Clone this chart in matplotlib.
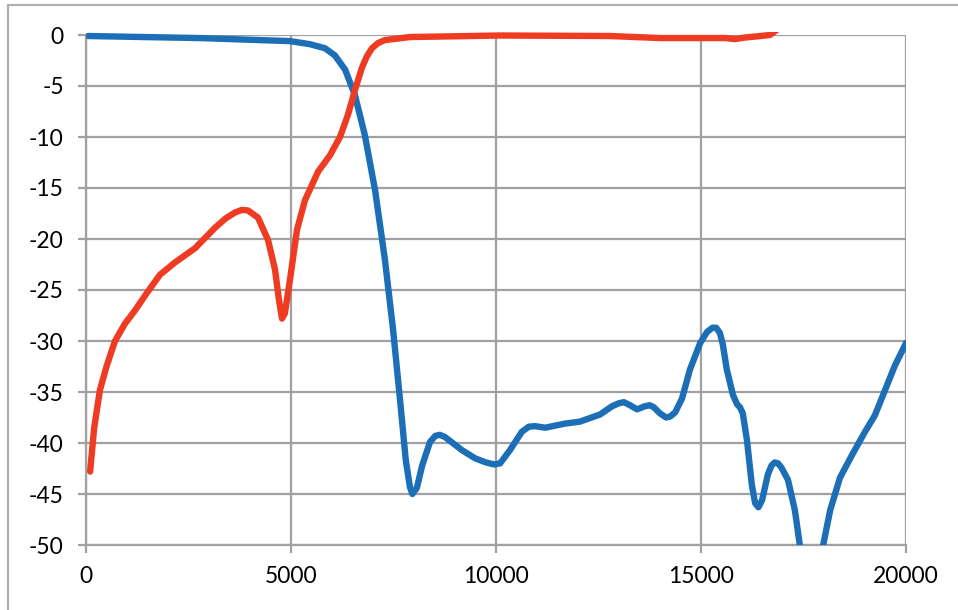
import matplotlib
matplotlib.use("Agg")
import matplotlib.pyplot as plt
from matplotlib.patches import Rectangle

# red series (freq, value)
red_x = [100, 200, 340, 500, 707, 950, 1195, 1500, 1805, 2170, 2660, 3146,
         3400, 3634, 3800, 3950, 4195, 4440, 4610, 4700, 4780, 4850, 4975,
         5146, 5340, 5660, 5950, 6195, 6390, 6560, 6730, 6850, 6975, 7120,
         7290, 7900, 10100, 12780, 14000, 14975, 15600, 15830, 16070, 16450,
         16680, 16850, 17100, 20000]
red_y = [-42.8, -38.5, -34.8, -32.5, -30.0, -28.3, -27.0, -25.2, -23.5, -22.3,
         -20.9, -18.9, -18.0, -17.4, -17.15, -17.2, -17.9, -20.1, -23.0, -25.8,
         -27.8, -27.3, -24.0, -19.1, -16.2, -13.4, -11.8, -10.0, -7.8, -5.4,
         -3.2, -2.1, -1.3, -0.8, -0.5, -0.2, -0.05, -0.1, -0.3, -0.3, -0.3,
         -0.4, -0.25, -0.1, 0.0, 0.5, 2.0, 4.0]

# blue series
blue_x = [50, 2780, 4975, 5460, 5830, 6070, 6320, 6560, 6800, 7050, 7290, 7490,
          7660, 7800, 7900, 7960, 8070, 8200, 8390, 8520, 8630, 8750, 8880,
          9170, 9490, 9750, 9950, 10100, 10340, 10630, 10800, 10950, 11200,
          11680, 12050, 12540, 12830, 13000, 13120, 13270, 13440, 13630, 13750,
          13850, 14000, 14150, 14250, 14370, 14540, 14730, 14980, 15150, 15280,
          15370, 15460, 15530, 15630, 15780, 15880, 15950, 16020, 16120, 16240,
          16320, 16400, 16490, 16630, 16720, 16800, 16880, 16960, 17120, 17290,
          17410, 17700, 17980, 18150, 18390, 18680, 19000, 19240, 19490, 19730,
          20000]
blue_y = [-0.1, -0.3, -0.6, -0.9, -1.3, -2.0, -3.4, -5.9, -9.8, -15.2, -22.0,
          -28.9, -35.8, -41.7, -44.3, -45.0, -44.4, -42.2, -39.9, -39.3, -39.2,
          -39.4, -39.8, -40.7, -41.5, -41.9, -42.1, -42.0, -40.7, -38.9, -38.4,
          -38.35, -38.5, -38.1, -37.9, -37.2, -36.4, -36.1, -36.0, -36.3, -36.7,
          -36.4, -36.3, -36.5, -37.1, -37.5, -37.4, -37.0, -35.6, -32.8, -30.2,
          -29.1, -28.7, -28.7, -29.2, -30.3, -32.8, -35.3, -36.2, -36.5, -37.1,
          -39.7, -44.1, -45.9, -46.3, -45.6, -43.1, -42.2, -41.9, -42.0, -42.4,
          -43.6, -46.6, -50.0, -65.0, -50.0, -46.6, -43.4, -41.2, -38.9, -37.3,
          -34.8, -32.4, -30.2]

x_ticks = [0, 5000, 10000, 15000, 20000]
y_ticks = [0, -5, -10, -15, -20, -25, -30, -35, -40, -45, -50]

plt.rcParams['font.family'] = ['Lato', 'DejaVu Sans']
grid_col = '#a0a0a2'

fig = plt.figure(figsize=(9.58, 6.10), dpi=100)
ax = fig.add_axes([86/958, 65/610, 820/958, 510/610])

# outer chart border (partly cut off like the original)
fig.patches.append(Rectangle((8/958, -0.05), 1.2, (605/610) + 0.05,
                             transform=fig.transFigure, fill=False,
                             edgecolor='#b0b0b2', linewidth=1.6))

clip = Rectangle((0, -50), 20000, 50.3, transform=ax.transData)
l1, = ax.plot(blue_x, blue_y, color='#1c6fb7', lw=4.6, solid_joinstyle='round',
              solid_capstyle='round', zorder=3)
l2, = ax.plot(red_x, red_y, color='#ee3b22', lw=4.6, solid_joinstyle='round',
              solid_capstyle='round', zorder=4)
l1.set_clip_path(clip)
l2.set_clip_path(clip)

ax.set_xlim(0, 20000)
ax.set_ylim(-50, 0)
ax.set_xticks(x_ticks)
ax.set_yticks(y_ticks)
ax.set_xticklabels([str(v) for v in x_ticks])
ax.set_yticklabels([str(v) for v in y_ticks])
ax.grid(True, color=grid_col, lw=1.6, zorder=1)
for s in ['top', 'right']:
    ax.spines[s].set_visible(False)
for s in ['left', 'bottom']:
    ax.spines[s].set_color(grid_col)
    ax.spines[s].set_linewidth(1.6)
ax.tick_params(axis='both', length=6, width=1.6, color=grid_col,
               labelsize=16.5, labelcolor='black')
ax.tick_params(axis='y', pad=10)
ax.tick_params(axis='x', pad=9)

fig.savefig('out.png', dpi=100)
